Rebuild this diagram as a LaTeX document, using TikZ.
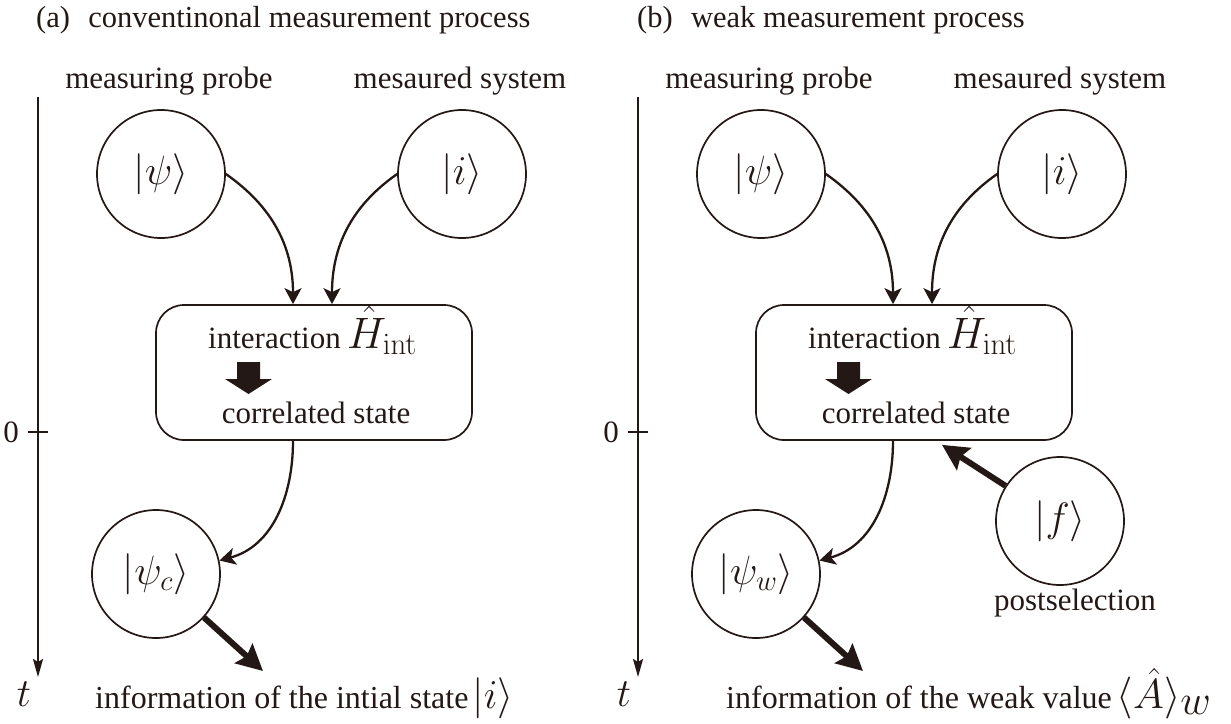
\RequirePackage{fix-cm}
\documentclass[tikz,border=0pt]{standalone}
\usepackage[no-math]{fontspec}
\setmainfont{Liberation Serif}
\usetikzlibrary{arrows.meta}
\definecolor{ink}{RGB}{35,24,21}
\begin{document}
\begin{tikzpicture}[x=1pt,y=1pt,
  txt/.style={font=\fontsize{31}{36}\selectfont, inner sep=0pt, text=ink},
  info/.style={font=\fontsize{32}{38}\selectfont, inner sep=0pt, text=ink},
  ttl/.style={font=\fontsize{30.5}{36}\selectfont, inner sep=0pt, text=ink},
  mth/.style={font=\fontsize{40}{48}\selectfont, inner sep=0pt, text=ink},
  ham/.style={font=\fontsize{44}{52}\selectfont, inner sep=0pt, text=ink},
  state/.style={circle, draw=ink, line width=1.7pt, minimum size=128pt, inner sep=0pt, text=ink, font=\fontsize{41}{48}\selectfont},
  procbox/.style={draw=ink, line width=1.7pt, rounded corners=28pt, minimum width=316pt, minimum height=135pt, inner sep=0pt},
  flow/.style={draw=ink, line width=2.3pt, -{Stealth[length=16pt,width=17pt,inset=4pt]}},
  bigarrow/.style={draw=ink, line width=6pt, -{Stealth[length=26pt,width=26pt,inset=4pt]}},
  axis/.style={draw=ink, line width=2.2pt, -{Stealth[length=18pt,width=10pt,inset=3pt]}},
  tick/.style={draw=ink, line width=2.2pt},
]
\useasboundingbox (0,0) rectangle (1231,-723);

% ---------------- panel (a) ----------------
\node[ttl, anchor=base west] (titleA) at (36,-27) {(a)\hspace{0.6em}conventinonal measurement process};
\coordinate (axtopA) at (38,-97);
\coordinate (axbotA) at (38,-677);
\draw[axis] (axtopA) -- (axbotA);
\node[mth, anchor=base] (tA) at (24,-706) {$t$};
\coordinate (tickAl) at (28,-432);
\coordinate (tickAr) at (48,-432);
\draw[tick] (tickAl) -- (tickAr);
\node[txt, anchor=east] (zeroA) at (19,-432) {0};
\node[txt, anchor=base] (probeA) at (169,-88) {measuring probe};
\node[txt, anchor=base] (sysA) at (460,-88) {mesaured system};
\node[state] (psiA) at (161,-174) {$|\psi\rangle$};
\node[state] (iA) at (462,-174) {$|i\rangle$};
\node[procbox] (boxA) at (314,-372.5) {};
\node[txt, anchor=base west] (intA) at (208,-348) {interaction};
\node[ham, anchor=base west] (hamA) at (347,-348) {$\hat{H}_{\mathrm{int}}$};
\fill[ink] (237,-362) -- (260,-362) -- (260,-379) -- (272,-379) -- (248.5,-394) -- (225,-379) -- (237,-379) -- cycle;
\node[txt, anchor=base] (corrA) at (316,-423) {correlated state};
\draw[flow] (psiA.east) to[out=-35,in=90] ([xshift=-21pt]boxA.north);
\draw[flow] (iA.west) to[out=215,in=90] ([xshift=18pt]boxA.north);
\node[state] (psicA) at (156,-574) {$|\psi_c\rangle$};
\draw[flow] ([xshift=-21pt]boxA.south) to[out=-90,in=15] (psicA.12);
\coordinate (infoTipA) at (263,-671);
\draw[bigarrow] (psicA) -- (infoTipA);
\node[info, anchor=base west] (infoA) at (95,-708) {information of the intial state\hspace{4pt}{\fontsize{41}{48}\selectfont$|i\rangle$}};

% ---------------- panel (b) ----------------
\node[ttl, anchor=base west] (titleB) at (637,-27) {(b)\hspace{0.6em}weak measurement process};
\coordinate (axtopB) at (638,-97);
\coordinate (axbotB) at (638,-677);
\draw[axis] (axtopB) -- (axbotB);
\node[mth, anchor=base] (tB) at (624,-706) {$t$};
\coordinate (tickBl) at (628,-432);
\coordinate (tickBr) at (648,-432);
\draw[tick] (tickBl) -- (tickBr);
\node[txt, anchor=east] (zeroB) at (619,-432) {0};
\node[txt, anchor=base] (probeB) at (769,-88) {measuring probe};
\node[txt, anchor=base] (sysB) at (1060,-88) {mesaured system};
\node[state] (psiB) at (761,-174) {$|\psi\rangle$};
\node[state] (iB) at (1062,-174) {$|i\rangle$};
\node[procbox] (boxB) at (914,-372.5) {};
\node[txt, anchor=base west] (intB) at (808,-348) {interaction};
\node[ham, anchor=base west] (hamB) at (947,-348) {$\hat{H}_{\mathrm{int}}$};
\fill[ink] (837,-362) -- (860,-362) -- (860,-379) -- (872,-379) -- (848.5,-394) -- (825,-379) -- (837,-379) -- cycle;
\node[txt, anchor=base] (corrB) at (916,-423) {correlated state};
\draw[flow] (psiB.east) to[out=-35,in=90] ([xshift=-21pt]boxB.north);
\draw[flow] (iB.west) to[out=215,in=90] ([xshift=18pt]boxB.north);
\node[state] (psiwB) at (756,-574) {$|\psi_w\rangle$};
\draw[flow] ([xshift=-21pt]boxB.south) to[out=-90,in=15] (psiwB.12);
\node[state] (fB) at (1060,-521) {$|f\rangle$};
\node[txt, anchor=base] (postB) at (1075,-610) {postselection};
\draw[bigarrow] (fB) -- ([xshift=28pt,yshift=-4pt]boxB.south);
\coordinate (infoTipB) at (863,-671);
\draw[bigarrow] (psiwB) -- (infoTipB);
\node[info, anchor=base west] (infoB) at (726,-708) {information of the weak value\hspace{5pt}{\fontsize{42}{48}\selectfont$\langle\hat{A}\rangle_{\textstyle w}$}};
\end{tikzpicture}
\end{document}
